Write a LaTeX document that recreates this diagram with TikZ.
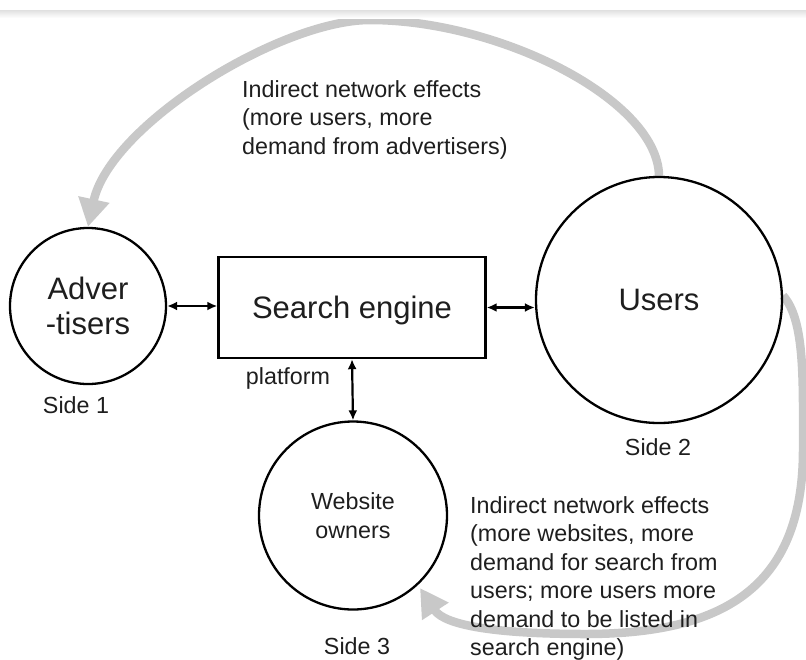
\documentclass[tikz,border=0pt]{standalone}
\usepackage{fontspec}
\setmainfont{Liberation Sans}
\usetikzlibrary{arrows.meta,backgrounds}
\definecolor{loopgray}{RGB}{200,200,200}
\definecolor{inkcol}{RGB}{30,30,30}
\begin{document}
\begin{tikzpicture}[x=1pt,y=-1pt,
  party/.style={circle,draw=black,line width=2.3pt,inner sep=0pt,align=center,text=inkcol},
  bigtxt/.style={font=\fontsize{31}{35}\selectfont},
  smalltxt/.style={font=\fontsize{23.3}{28.5}\selectfont,text=inkcol},
  link/.style={{Latex[length=10pt,width=9pt]}-{Latex[length=10pt,width=9pt]},line width=2.2pt},
  effect/.style={draw=loopgray,line width=8.5pt,-{Triangle[length=28pt,width=30pt]}},
  note/.style={smalltxt,align=left,anchor=north west,inner sep=0pt},
]
\useasboundingbox (0,0) rectangle (806,659);
% thin shadow along the top edge
\shade[top color=black!12,bottom color=white] (0,10) rectangle (806,18);

% the platform and its three sides
\node[party,bigtxt,minimum size=156pt] (adv) at (88,306) {Adver\\-tisers};
\node[draw,line width=2.4pt,minimum width=267pt,minimum height=101pt,inner sep=0pt,
      bigtxt,text=inkcol,text depth=0pt] (se) at (352,307.5) {Search engine};
\node[party,bigtxt,minimum size=246pt] (usr) at (659,300) {Users};
\node[party,smalltxt,minimum size=188pt] (web) at (353,515.5) {Website\\owners};

% captions
\node[smalltxt] (s1) at (76,405) {Side 1};
\node[smalltxt,text depth=0pt] (pf) at (288,376) {platform};
\node[smalltxt] (s2) at (658,447) {Side 2};
\node[smalltxt] (s3) at (357,646) {Side 3};

% direct links with the platform
\draw[link] (adv.east) -- (adv.east -| se.west);
\draw[link] (se.east) -- (se.east -| usr.west);
\draw[link] (se.south) -- (web.north);

% indirect network effects loops
\coordinate (tipB) at (420,588);
\begin{scope}[on background layer]
\draw[effect] (usr.north) .. controls (658,100) and (500,20) .. (370,20)
      .. controls (280,20) and (110,125) .. (adv.north);
\draw[effect] (usr.2) .. controls (805,320) and (803,380) .. (803,450)
      .. controls (803,590) and (720,634) .. (585,634)
      .. controls (500,634) and (445,626) .. (tipB);
\end{scope}

\node[note] (topnote) at (242,80)
  {Indirect network effects\\(more users, more\\demand from advertisers)};
\node[note] (botnote) at (470,496)
  {Indirect network effects\\(more websites, more\\demand for search from\\users; more users more\\demand to be listed in\\search engine)};
\end{tikzpicture}
\end{document}
